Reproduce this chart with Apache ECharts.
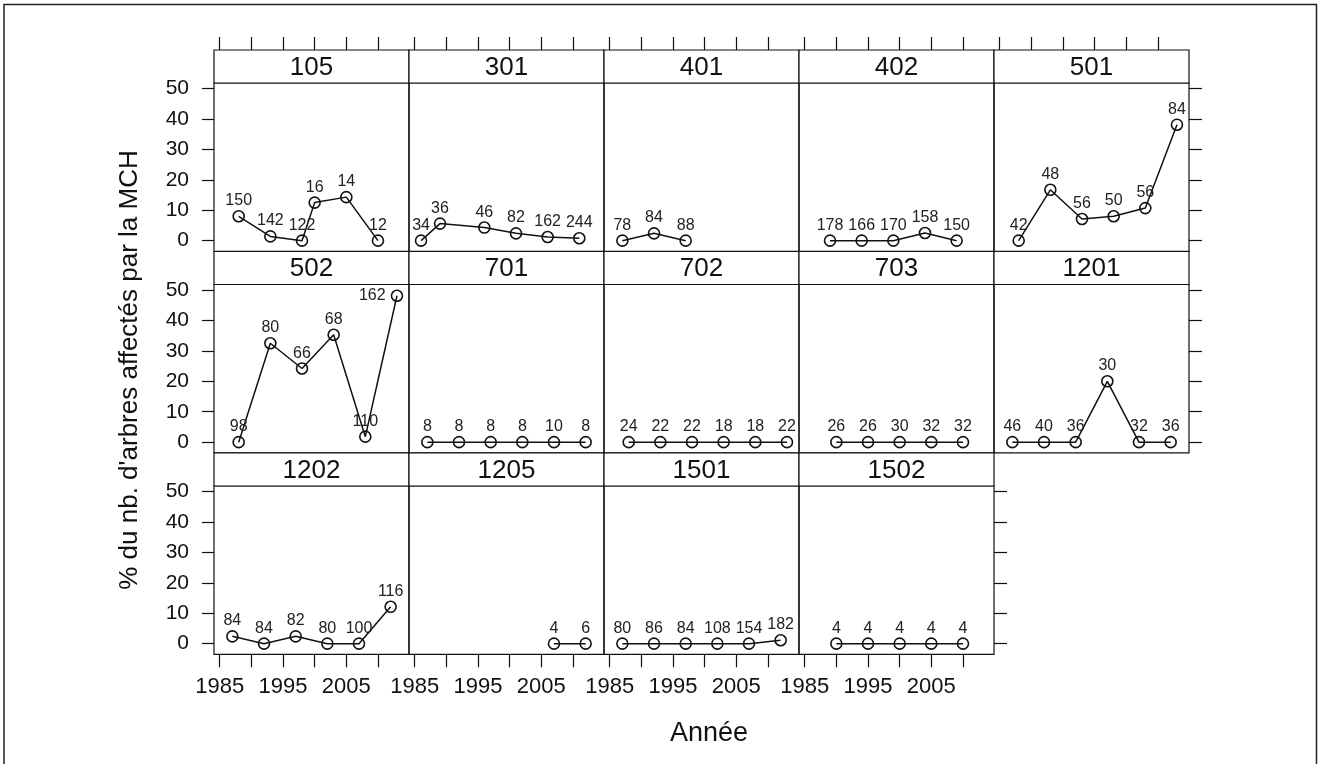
<!DOCTYPE html>
<html><head><meta charset="utf-8">
<script src="https://cdn.jsdelivr.net/npm/echarts@6/dist/echarts.min.js"></script>
<style>html,body{margin:0;padding:0;background:#fff}#c{width:1318px;height:764px}</style>
</head><body><div id="c"></div><script>
// ---- data ----
const panelNames = ['105','301','401','402','501','502','701','702','703','1201','1202','1205','1501','1502'];
const xTicks = [1985, 1990, 1995, 2000, 2005, 2010];
const xTickLabels = [1985, 1995, 2005];
const yTicks = [0, 10, 20, 30, 40, 50];

const years105 = [1988, 1993, 1998, 2000, 2005, 2010];
const pct105   = [8.0, 1.4, 0, 12.5, 14.3, 0];
const n105     = [150, 142, 122, 16, 14, 12];

const years301 = [1986, 1989, 1996, 2001, 2006, 2011];
const pct301   = [0, 5.6, 4.3, 2.4, 1.2, 0.8];
const n301     = [34, 36, 46, 82, 162, 244];

const years401 = [1987, 1992, 1997];
const pct401   = [0, 2.4, 0];
const n401     = [78, 84, 88];

const years402 = [1989, 1994, 1999, 2004, 2009];
const pct402   = [0, 0, 0, 2.5, 0];
const n402     = [178, 166, 170, 158, 150];

const years501 = [1988, 1993, 1998, 2003, 2008, 2013];
const pct501   = [0, 16.7, 7.1, 8.0, 10.7, 38.1];
const n501     = [42, 48, 56, 50, 56, 84];

const years502 = [1988, 1993, 1998, 2003, 2008, 2013];
const pct502   = [0, 32.5, 24.2, 35.3, 1.8, 48.1];
const n502     = [98, 80, 66, 68, 110, 162];

const years701 = [1987, 1992, 1997, 2002, 2007, 2012];
const pct701   = [0, 0, 0, 0, 0, 0];
const n701     = [8, 8, 8, 8, 10, 8];

const years702 = [1988, 1993, 1998, 2003, 2008, 2013];
const pct702   = [0, 0, 0, 0, 0, 0];
const n702     = [24, 22, 22, 18, 18, 22];

const years703 = [1990, 1995, 2000, 2005, 2010];
const pct703   = [0, 0, 0, 0, 0];
const n703     = [26, 26, 30, 32, 32];

const years1201 = [1987, 1992, 1997, 2002, 2007, 2012];
const pct1201   = [0, 0, 0, 20, 0, 0];
const n1201     = [46, 40, 36, 30, 32, 36];

const years1202 = [1987, 1992, 1997, 2002, 2007, 2012];
const pct1202   = [2.4, 0, 2.4, 0, 0, 12.1];
const n1202     = [84, 84, 82, 80, 100, 116];

const years1205 = [2007, 2012];
const pct1205   = [0, 0];
const n1205     = [4, 6];

const years1501 = [1987, 1992, 1997, 2002, 2007, 2012];
const pct1501   = [0, 0, 0, 0, 0, 1.1];
const n1501     = [80, 86, 84, 108, 154, 182];

const years1502 = [1990, 1995, 2000, 2005, 2010];
const pct1502   = [0, 0, 0, 0, 0];
const n1502     = [4, 4, 4, 4, 4];

const panelYears = [years105, years301, years401, years402, years501, years502, years701, years702, years703, years1201, years1202, years1205, years1501, years1502];
const panelPct   = [pct105, pct301, pct401, pct402, pct501, pct502, pct701, pct702, pct703, pct1201, pct1202, pct1205, pct1501, pct1502];
const panelN     = [n105, n301, n401, n402, n501, n502, n701, n702, n703, n1201, n1202, n1205, n1501, n1502];

// ---- layout ----
const FONT = 'Liberation Sans, Arial, sans-serif';
const COL_LEFT = 214, COL_W = 195;
const ROW_TOP = [50, 251.5, 453];
const STRIP_H = 33, PANEL_H = 168.3;
const XMIN = 1984.1, XMAX = 2014.9, YMIN = -3.5, YMAX = 51.8;
const NCOL = 5;
const black = '#000';

const grids = [], xAxes = [], yAxes = [], series = [], graphics = [];
const tickStyle = {color: '#111', width: 1.2};

panelNames.forEach((name, i) => {
  const r = Math.floor(i / NCOL), c = i % NCOL;
  const left = COL_LEFT + c * COL_W;
  const top = ROW_TOP[r];
  const lastInRow = (c === NCOL - 1) || (i === panelNames.length - 1);
  const isBottom = (r === 2);
  grids.push({left: left, top: top + STRIP_H, width: COL_W, height: PANEL_H,
    show: true, borderColor: '#111', borderWidth: 1.2, backgroundColor: 'transparent',
    containLabel: false, outerBoundsMode: 'none'});

  const xi = xAxes.length;
  xAxes.push({gridIndex: i, type: 'value', min: XMIN, max: XMAX, position: 'bottom',
    axisLine: {show: false, onZero: false}, splitLine: {show: false},
    axisTick: {show: isBottom, inside: false, length: 13, customValues: xTicks, lineStyle: tickStyle},
    axisLabel: {show: isBottom, customValues: xTickLabels, margin: 22, fontSize: 22, fontFamily: FONT, color: '#111',
      formatter: v => String(Math.round(v))}});
  if (r === 0) {
    xAxes.push({gridIndex: i, type: 'value', min: XMIN, max: XMAX, position: 'top', offset: STRIP_H,
      axisLine: {show: false, onZero: false}, splitLine: {show: false},
      axisTick: {show: true, length: 13, customValues: xTicks, lineStyle: tickStyle},
      axisLabel: {show: false}});
  }
  const yi = yAxes.length;
  yAxes.push({gridIndex: i, type: 'value', min: YMIN, max: YMAX, position: 'left',
    axisLine: {show: false, onZero: false}, splitLine: {show: false},
    axisTick: {show: c === 0, length: 12, customValues: yTicks, lineStyle: tickStyle},
    axisLabel: {show: c === 0, customValues: yTicks, margin: 25, fontSize: 21, fontFamily: FONT, color: '#111'}});
  if (lastInRow) {
    yAxes.push({gridIndex: i, type: 'value', min: YMIN, max: YMAX, position: 'right',
      axisLine: {show: false, onZero: false}, splitLine: {show: false},
      axisTick: {show: true, length: 13, customValues: yTicks, lineStyle: tickStyle},
      axisLabel: {show: false}});
  }

  const yrs = panelYears[i], pct = panelPct[i], nn = panelN[i];
  series.push({type: 'line', xAxisIndex: xi, yAxisIndex: yi, clip: false,
    data: yrs.map((y, k) => ({value: [y, pct[k]],
      label: pct[k] > 45 ? {position: 'left', distance: 5} : undefined})),
    symbol: 'circle', symbolSize: 11,
    lineStyle: {color: '#111', width: 1.5},
    itemStyle: {color: 'transparent', borderColor: '#111', borderWidth: 1.6},
    label: {show: true, position: 'top', distance: 1, fontSize: 16, fontFamily: FONT, color: '#222',
      formatter: p => String(nn[p.dataIndex])},
    emphasis: {disabled: true}, animation: false, silent: true, z: 3});

  graphics.push({type: 'rect', shape: {x: left, y: top, width: COL_W, height: STRIP_H},
    style: {fill: '#fff', stroke: '#111', lineWidth: 1.2}, z: 1});
  graphics.push({type: 'text', x: left + COL_W / 2, y: top + STRIP_H / 2 + 1,
    style: {text: name, textAlign: 'center', textVerticalAlign: 'middle', fontSize: 26, fontFamily: FONT, fill: '#111'}, z: 2});
});

graphics.push({type: 'rect', shape: {x: 4, y: 4.5, width: 1312.5, height: 800},
  style: {fill: 'none', stroke: '#222', lineWidth: 1.5}, z: 0});
graphics.push({type: 'text', x: 130, y: 370, rotation: Math.PI / 2,
  style: {text: "% du nb. d'arbres affectés par la MCH", textAlign: 'center', textVerticalAlign: 'middle', fontSize: 26, fontFamily: FONT, fill: '#111'}});
graphics.push({type: 'text', x: 709, y: 734,
  style: {text: 'Année', textAlign: 'center', textVerticalAlign: 'middle', fontSize: 27, fontFamily: FONT, fill: '#111'}});

const chart = echarts.init(document.getElementById('c'), null, {renderer: 'canvas'});
chart.setOption({
  backgroundColor: '#fff',
  animation: false,
  grid: grids, xAxis: xAxes, yAxis: yAxes, series: series,
  graphic: graphics
});
</script></body></html>
